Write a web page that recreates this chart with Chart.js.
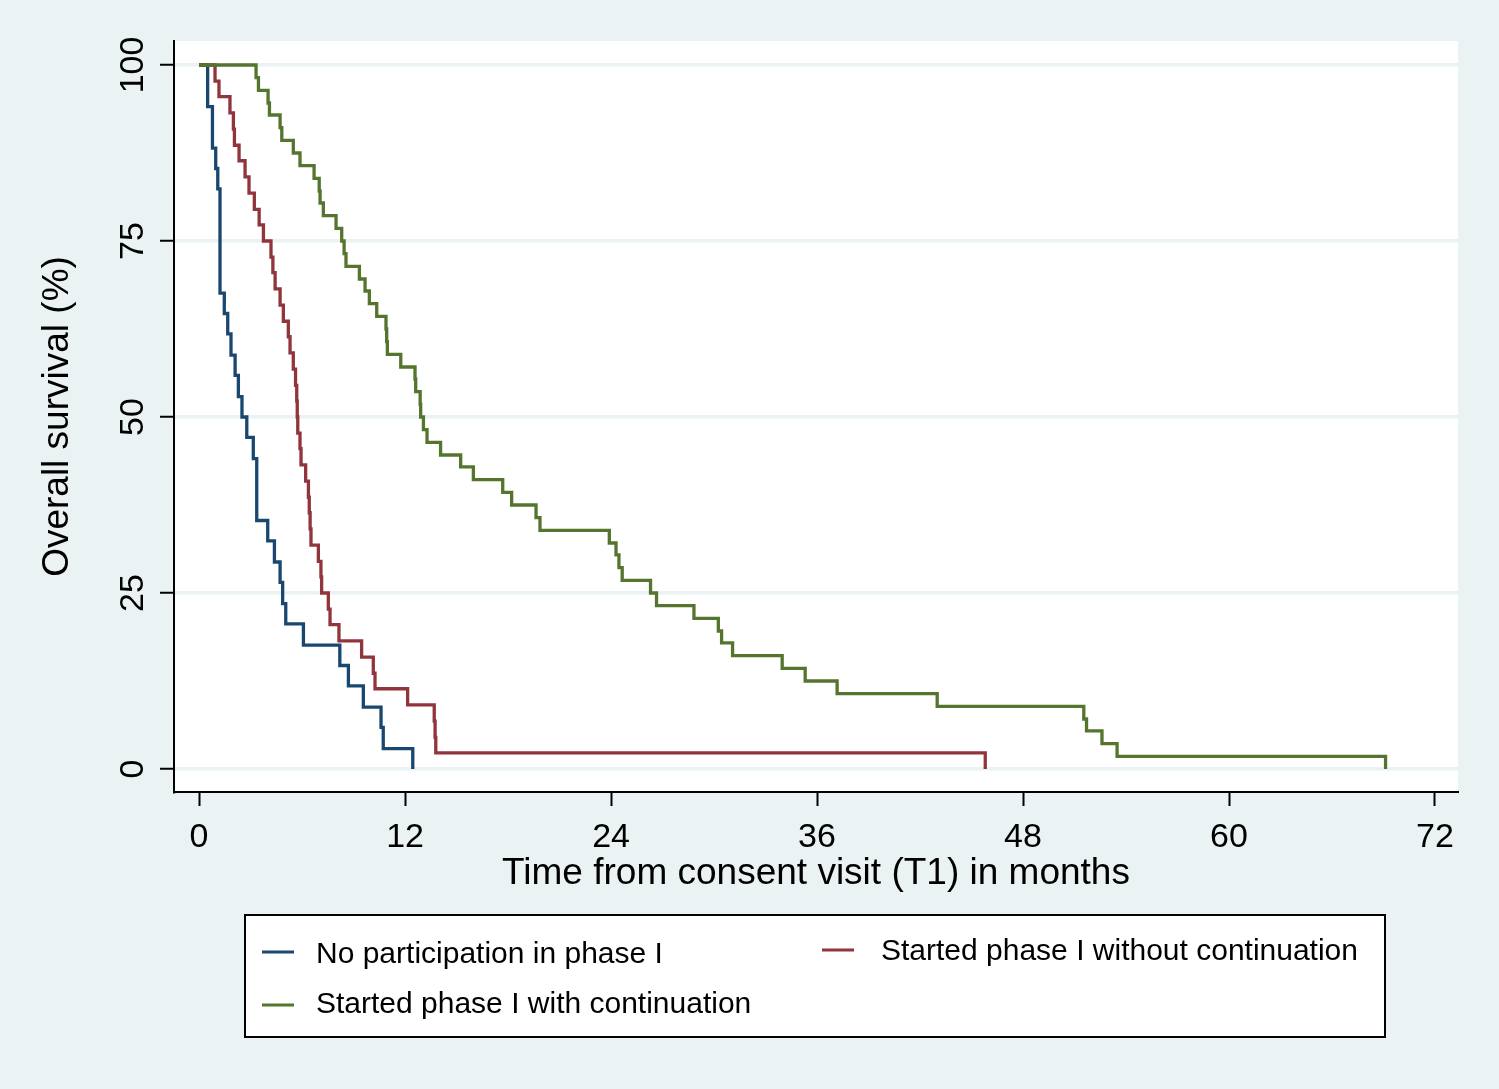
<!DOCTYPE html>
<html>
<head>
<meta charset="utf-8">
<title>Overall survival</title>
<script src="https://cdn.jsdelivr.net/npm/chart.js@4.4.1/dist/chart.umd.min.js"></script>
<style>
  html, body { margin: 0; padding: 0; background: #eaf2f3; }
</style>
</head>
<body>
<canvas id="kmChart" width="1499" height="1089"></canvas>
<script>
// axis ticks
const xTicks = [0, 12, 24, 36, 48, 60, 72];
const yTicks = [0, 25, 50, 75, 100];

const groupLabels = [
    "No participation in phase I",
    "Started phase I without continuation",
    "Started phase I with continuation",
];

// Kaplan-Meier steps: time (months) and survival (%) after each event
const noPhaseTime = [0, 0.5, 0.78, 0.97, 1.09, 1.22, 1.47, 1.67, 1.86, 2.1, 2.29, 2.5, 2.78, 3.16, 3.36,
    4.0, 4.39, 4.72, 4.87, 5.05, 6.08, 8.2, 8.7, 9.57, 10.6, 10.73, 12.45];
const noPhaseSurv = [100, 94.1, 88.2, 85.3, 82.4, 67.6, 64.7, 61.8, 58.8, 55.9, 52.9, 50.0, 47.1, 44.1, 35.3,
    32.4, 29.4, 26.5, 23.5, 20.6, 17.6, 14.7, 11.8, 8.8, 5.9, 2.9, 0];

const withoutContTime = [0, 0.93, 1.16, 1.8, 2.0, 2.06, 2.33, 2.68, 2.91, 3.22, 3.5, 3.75, 4.19, 4.3, 4.43,
    4.72, 4.91, 5.2, 5.3, 5.49, 5.62, 5.69, 5.72, 5.75, 5.88, 5.94, 6.21, 6.37, 6.42, 6.47, 6.52,
    6.95, 7.1, 7.14, 7.53, 7.63, 8.15, 9.47, 10.15, 10.25, 12.15, 13.7, 13.75, 13.79, 45.8];
const withoutContSurv = [100, 97.7, 95.5, 93.2, 90.9, 88.6, 86.4, 84.1, 81.8, 79.5, 77.3, 75.0, 72.7, 70.5, 68.2,
    65.9, 63.6, 61.4, 59.1, 56.8, 54.5, 52.3, 50.0, 47.7, 45.5, 43.2, 40.9, 38.6, 36.4, 34.1, 31.8,
    29.5, 27.3, 25.0, 22.7, 20.5, 18.2, 15.9, 13.6, 11.4, 9.1, 6.8, 4.5, 2.3, 0];

const withContTime = [0, 3.32, 3.46, 4.02, 4.1, 4.72, 4.82, 5.49, 5.88, 6.7, 7.0, 7.05, 7.24, 7.98, 8.31,
    8.45, 8.56, 9.34, 9.67, 9.92, 10.35, 10.89, 10.93, 10.97, 11.75, 12.58, 12.62, 12.88, 12.91, 13.07,
    13.28, 14.07, 15.24, 15.98, 17.69, 18.21, 19.63, 19.86, 23.9, 24.29, 24.46, 24.65, 26.3, 26.65,
    28.83, 30.25, 30.44, 31.08, 33.97, 35.31, 37.17, 43.0, 51.54, 51.7, 52.6, 53.48, 69.12];
const withContSurv = [100, 98.2, 96.4, 94.6, 92.9, 91.1, 89.3, 87.5, 85.7, 83.9, 82.1, 80.4, 78.6, 76.8, 75.0,
    73.2, 71.4, 69.6, 67.9, 66.1, 64.3, 62.5, 60.7, 58.9, 57.1, 55.4, 53.6, 51.8, 50.0, 48.2,
    46.4, 44.6, 42.9, 41.1, 39.3, 37.5, 35.7, 33.9, 32.1, 30.4, 28.6, 26.8, 25.0, 23.2,
    21.4, 19.6, 17.9, 16.1, 14.3, 12.5, 10.7, 8.9, 7.1, 5.4, 3.6, 1.8, 0];

const xTitle = "Time from consent visit (T1) in months";
const yTitle = "Overall survival (%)";

const FONT = "Liberation Sans";
Chart.defaults.font.family = FONT;
Chart.defaults.color = "#000";

function toPoints(times, surv) {
    return times.map((t, i) => ({ x: t, y: surv[i] }));
}

// white plot region on the stata-like background
const plotBackground = {
    id: "plotBackground",
    beforeDraw(chart) {
        const { ctx, chartArea: a } = chart;
        ctx.save();
        ctx.fillStyle = "#eaf2f3";
        ctx.fillRect(0, 0, chart.width, chart.height);
        ctx.fillStyle = "#ffffff";
        ctx.fillRect(a.left, a.top, a.right - a.left, a.bottom - a.top);
        ctx.restore();
    },
};

// rotated y tick labels
const yTickLabels = {
    id: "yTickLabels",
    afterDraw(chart) {
        const s = chart.scales.y;
        const ctx = chart.ctx;
        ctx.save();
        ctx.font = "34px '" + FONT + "'";
        ctx.fillStyle = "#000";
        ctx.textAlign = "center";
        ctx.textBaseline = "alphabetic";
        s.ticks.forEach(t => {
            ctx.save();
            ctx.translate(143, s.getPixelForValue(t.value));
            ctx.rotate(-Math.PI / 2);
            ctx.fillText(String(t.value), 0, 0);
            ctx.restore();
        });
        ctx.restore();
    },
};

// boxed legend below the plot
const boxLegend = {
    id: "boxLegend",
    afterDraw(chart) {
        const ctx = chart.ctx;
        const slots = [
            { lx: 262, tx: 316, ly: 952, ty: 963 },
            { lx: 822, tx: 881, ly: 950, ty: 960 },
            { lx: 262, tx: 316, ly: 1005, ty: 1013 },
        ];
        ctx.save();
        ctx.fillStyle = "#ffffff";
        ctx.fillRect(245, 915, 1140, 122);
        ctx.strokeStyle = "#000";
        ctx.lineWidth = 2;
        ctx.strokeRect(245, 915, 1140, 122);
        ctx.font = "30px '" + FONT + "'";
        ctx.textBaseline = "alphabetic";
        ctx.textAlign = "left";
        chart.data.datasets.forEach((ds, i) => {
            const s = slots[i];
            ctx.strokeStyle = ds.borderColor;
            ctx.lineWidth = 3;
            ctx.beginPath();
            ctx.moveTo(s.lx, s.ly);
            ctx.lineTo(s.lx + 32, s.ly);
            ctx.stroke();
            ctx.fillStyle = "#000";
            ctx.fillText(ds.label, s.tx, s.ty);
        });
        ctx.restore();
    },
};

const dataKM = {
    datasets: [
        {
            label: groupLabels[0],
            data: toPoints(noPhaseTime, noPhaseSurv),
            borderColor: "#1a476f",
            borderWidth: 3.3,
            stepped: true,
            order: 2,
        },
        {
            label: groupLabels[1],
            data: toPoints(withoutContTime, withoutContSurv),
            borderColor: "#90353b",
            borderWidth: 3.3,
            stepped: true,
            order: 1,
        },
        {
            label: groupLabels[2],
            data: toPoints(withContTime, withContSurv),
            borderColor: "#55752f",
            borderWidth: 3.3,
            stepped: true,
            order: 0,
        },
    ],
};

const configKM = {
    type: "line",
    data: dataKM,
    plugins: [plotBackground, yTickLabels, boxLegend],
    options: {
        responsive: false,
        animation: false,
        layout: { padding: { left: 0, top: 41, right: 41, bottom: 187 } },
        elements: { point: { radius: 0 }, line: { tension: 0, fill: false } },
        plugins: { legend: { display: false }, tooltip: { enabled: false } },
        scales: {
            x: {
                type: "linear",
                min: -1.46,
                max: 73.34,
                afterBuildTicks: s => { s.ticks = xTicks.map(v => ({ value: v })); },
                afterFit: s => { s.height = 110; },
                grid: { drawOnChartArea: false, drawTicks: true, tickLength: 14, tickColor: "#000", tickWidth: 2 },
                border: { color: "#000", width: 2 },
                ticks: { color: "#000", font: { size: 34 }, padding: 11, maxRotation: 0, autoSkip: false },
                title: { display: true, text: xTitle, color: "#000", font: { size: 37 }, padding: { top: 0, bottom: 6 } },
            },
            y: {
                type: "linear",
                min: -3.27,
                max: 103.41,
                afterBuildTicks: s => { s.ticks = yTicks.map(v => ({ value: v })); },
                afterFit: s => { s.width = 174; },
                grid: { color: "#eaf2f3", lineWidth: 3.5, drawTicks: true, tickLength: 14, tickColor: "#000", tickWidth: 2 },
                border: { color: "#000", width: 2 },
                ticks: { display: false },
                title: { display: true, text: yTitle, color: "#000", font: { size: 37 }, padding: { top: 36, bottom: 0 } },
            },
        },
    },
};

var chartKM = new Chart(document.getElementById("kmChart"), configKM);
</script>
</body>
</html>
